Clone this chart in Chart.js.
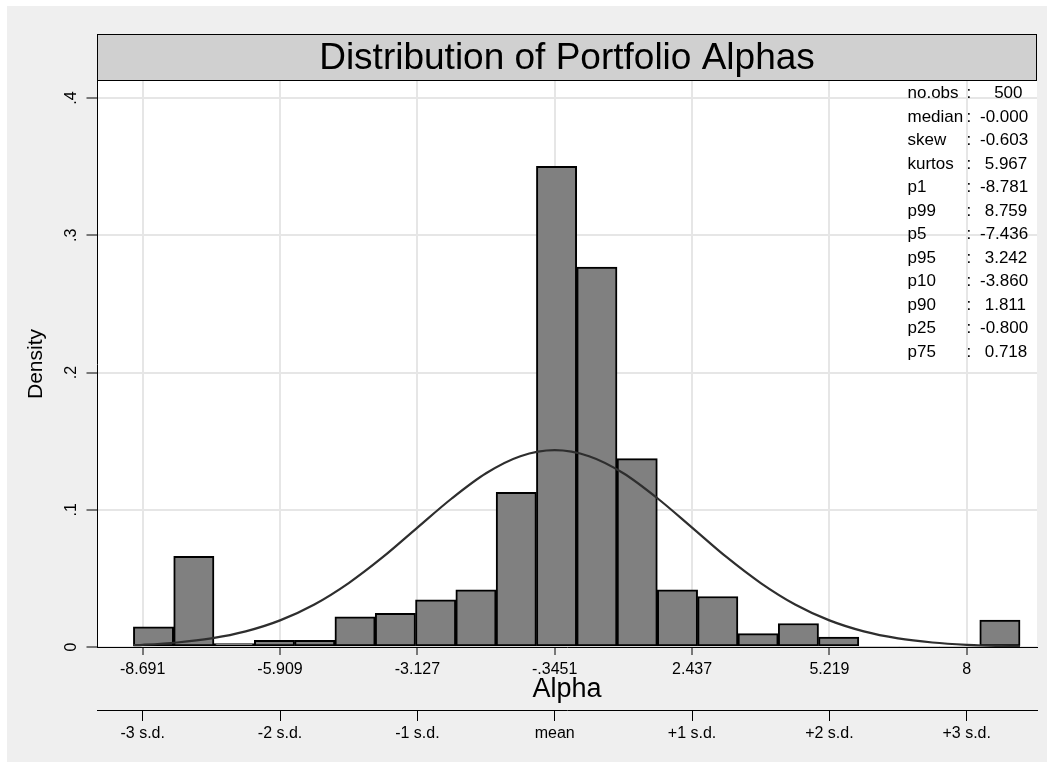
<!DOCTYPE html>
<html>
<head>
<meta charset="utf-8">
<title>Distribution of Portfolio Alphas</title>
<script src="https://cdn.jsdelivr.net/npm/chart.js@4/dist/chart.umd.min.js"></script>
<style>
  html, body { margin: 0; padding: 0; background: #ffffff; }
  canvas { display: block; }
</style>
</head>
<body>
<canvas id="chart" width="1054" height="769"></canvas>
<script>
// ---- data ----
const titleText = 'Distribution of Portfolio Alphas';
const xTitle = 'Alpha';
const yTitle = 'Density';

// histogram: bin midpoints (22 bins) and their densities
const binCenters = [-8.4718, -7.6554, -6.8390, -6.0226, -5.2062, -4.3898, -3.5734, -2.7570,
                    -1.9406, -1.1242, -0.3078, 0.5086, 1.3250, 2.1414, 2.9578, 3.7742,
                    4.5906, 5.4070, 6.2234, 7.0398, 7.8562, 8.6726];
const density = [0.0147, 0.0661, 0.0025, 0.0049, 0.0049, 0.0220, 0.0245, 0.0343,
                 0.0416, 0.1127, 0.3503, 0.2768, 0.1372, 0.0416, 0.0368, 0.0098,
                 0.0171, 0.0073, 0, 0, 0, 0.0196];

// normal density overlay
const curveX = [-8.88, -8.691, -7.996, -7.300, -6.605, -5.909, -5.214, -4.518, -3.823, -3.127,
                -2.432, -1.736, -1.041, -0.345, 0.350, 1.046, 1.741, 2.437, 3.132, 3.828,
                4.524, 5.219, 5.915, 6.610, 7.306, 8.000, 8.696, 9.08];
const curveY = [0.0013, 0.0016, 0.0033, 0.0063, 0.0114, 0.0194, 0.0310, 0.0466, 0.0656, 0.0870,
                0.1082, 0.1266, 0.1390, 0.1434, 0.1390, 0.1266, 0.1082, 0.0870, 0.0656, 0.0466,
                0.0310, 0.0194, 0.0114, 0.0063, 0.0033, 0.0016, 0.0007, 0.0005];

// axis ticks
const xTickValues = [-8.691, -5.909, -3.127, -0.3451, 2.437, 5.219, 8];
const xTickLabels = ['-8.691', '-5.909', '-3.127', '-.3451', '2.437', '5.219', '8'];
const sdTickLabels = ['-3 s.d.', '-2 s.d.', '-1 s.d.', 'mean', '+1 s.d.', '+2 s.d.', '+3 s.d.'];
const yTickValues = [0, 0.1, 0.2, 0.3, 0.4];
const yTickLabels = ['0', '.1', '.2', '.3', '.4'];

// summary statistics
const statNames = ['no.obs', 'median', 'skew', 'kurtos', 'p1', 'p99', 'p5', 'p95', 'p10', 'p90', 'p25', 'p75'];
const statValues = ['   500', '-0.000', '-0.603', ' 5.967', '-8.781', ' 8.759', '-7.436', ' 3.242',
                    '-3.860', ' 1.811', '-0.800', ' 0.718'];

// ---- styling ----
const FONT = "'Liberation Sans', Arial, Helvetica, sans-serif";
const OUTER_BG = '#efefef';
const TITLE_BG = '#d0d0d0';
const GRID = '#e6e6e6';

// page background, plot area, title bar, statistics table
const backdrop = {
  id: 'backdrop',
  beforeDraw(chart) {
    const { ctx, chartArea: a } = chart;
    ctx.save();
    ctx.fillStyle = '#ffffff';
    ctx.fillRect(0, 0, chart.width, chart.height);
    ctx.fillStyle = OUTER_BG;
    ctx.fillRect(7, 6, chart.width - 14, chart.height - 13);
    ctx.fillStyle = '#ffffff';
    ctx.fillRect(a.left, a.top, a.right - a.left, a.bottom - a.top);
    // title bar
    const barTop = a.top - 47;
    ctx.fillStyle = TITLE_BG;
    ctx.fillRect(a.left, barTop, a.right - a.left, a.top - barTop);
    ctx.strokeStyle = '#000';
    ctx.lineWidth = 1;
    ctx.strokeRect(a.left + 0.5, barTop + 0.5, a.right - a.left - 1, a.top - barTop - 1);
    ctx.fillStyle = '#000';
    ctx.font = '37px ' + FONT;
    ctx.textAlign = 'center';
    ctx.textBaseline = 'middle';
    ctx.fillText(titleText, (a.left + a.right) / 2, (barTop + a.top) / 2 + 1);
    ctx.restore();
  },
  afterDraw(chart) {
    const { ctx } = chart;
    ctx.save();
    ctx.fillStyle = '#000';
    ctx.font = '17px ' + FONT;
    ctx.textBaseline = 'middle';
    ctx.textAlign = 'left';
    statNames.forEach((name, i) => {
      const y = 93.5 + i * 23.5;
      ctx.fillText(name, 907.5, y);
      ctx.fillText(':', 966.5, y);
      ctx.fillText(statValues[i], 980, y);
    });
    ctx.restore();
  }
};

const tickFont = { family: FONT, size: 16 };

new Chart(document.getElementById('chart'), {
  type: 'bar',
  data: {
    datasets: [
      {
        type: 'line',
        order: 0,
        data: curveX.map((x, i) => ({ x: x, y: curveY[i] })),
        borderColor: '#2e2e2e',
        borderWidth: 2.2,
        pointRadius: 0,
        fill: false,
        cubicInterpolationMode: 'monotone'
      },
      {
        type: 'bar',
        order: 1,
        data: binCenters.map((x, i) => ({ x: x, y: density[i] })),
        backgroundColor: '#808080',
        borderColor: '#000000',
        borderWidth: ctx => (ctx.raw && ctx.raw.y > 0 ? 2 : 0),
        borderSkipped: false,
        barPercentage: 1,
        categoryPercentage: 1,
        grouped: false
      }
    ]
  },
  options: {
    responsive: false,
    animation: false,
    devicePixelRatio: 1,
    layout: { padding: { top: 81, left: 0, right: 17, bottom: 0 } },
    plugins: { legend: { display: false }, tooltip: { enabled: false } },
    scales: {
      x: {
        type: 'linear',
        position: 'bottom',
        weight: 1,
        offset: false,
        min: -9.617,
        max: 9.424,
        afterFit(s) { s.height = 63; },
        afterBuildTicks(s) { s.ticks = xTickValues.map(v => ({ value: v })); },
        ticks: {
          callback: (v, i) => xTickLabels[i],
          font: tickFont, color: '#000', padding: 4.9,
          maxRotation: 0, minRotation: 0, autoSkip: false
        },
        grid: {
          offset: false, color: GRID, lineWidth: 2,
          tickColor: '#000', tickWidth: 1, tickLength: 8
        },
        border: { color: '#000', width: 1 },
        title: {
          display: true, text: xTitle, color: '#000',
          font: { family: FONT, size: 27 }, padding: { top: 0, bottom: 3.8 }
        }
      },
      x2: {
        type: 'linear',
        position: 'bottom',
        weight: 2,
        offset: false,
        min: -9.617,
        max: 9.424,
        afterFit(s) { s.height = 59; },
        afterBuildTicks(s) { s.ticks = xTickValues.map(v => ({ value: v })); },
        ticks: {
          callback: (v, i) => sdTickLabels[i],
          font: tickFont, color: '#000', padding: 2.9,
          maxRotation: 0, minRotation: 0, autoSkip: false
        },
        grid: {
          offset: false, drawOnChartArea: false,
          tickColor: '#000', tickWidth: 1, tickLength: 11
        },
        border: { color: '#000', width: 1 }
      },
      y: {
        type: 'linear',
        position: 'left',
        min: 0,
        max: 0.4124,
        afterFit(s) { s.width = 97; },
        afterBuildTicks(s) { s.ticks = yTickValues.map(v => ({ value: v })); },
        ticks: {
          callback: (v, i) => yTickLabels[i],
          font: tickFont, color: '#000', padding: 8.6,
          minRotation: 90, maxRotation: 90, crossAlign: 'center', autoSkip: false
        },
        grid: {
          color: GRID, lineWidth: 2,
          tickColor: '#000', tickWidth: 1, tickLength: 10.5
        },
        border: { color: '#000', width: 1 },
        title: {
          display: true, text: yTitle, color: '#000',
          font: { family: FONT, size: 21 }, padding: { top: 23.4, bottom: 0 }
        }
      }
    }
  },
  plugins: [backdrop]
});
</script>
</body>
</html>
